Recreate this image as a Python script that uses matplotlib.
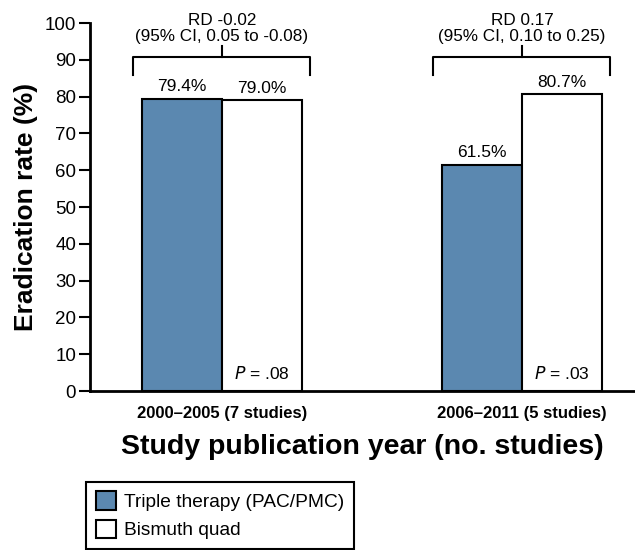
import numpy as np
import matplotlib.pyplot as plt
from matplotlib.patches import Patch

plt.rcParams['font.family'] = ['Liberation Sans', 'DejaVu Sans']

groups = ["2000\u20132005 (7 studies)", "2006\u20132011 (5 studies)"]
triple = [79.4, 61.5]
bismuth = [79.0, 80.7]
p_values = ["= .08", "= .03"]
rd_text = ["RD -0.02\n(95% CI, 0.05 to -0.08)", "RD 0.17\n(95% CI, 0.10 to 0.25)"]
series_names = ["Triple therapy (PAC/PMC)", "Bismuth quad"]
blue = "#5b88b0"

fig = plt.figure(figsize=(6.35, 5.5), dpi=100)
ax = fig.add_axes([90/635, 1-391/550, 1-90/635, (391-23)/550])

x = np.arange(len(groups))
w = 0.267
ax.bar(x - w/2, triple, w, color=blue, edgecolor="black", linewidth=1.5, clip_on=False)
ax.bar(x + w/2, bismuth, w, color="white", edgecolor="black", linewidth=1.5, clip_on=False)

for i in range(len(groups)):
    ax.text(x[i] - w/2, triple[i] + 1.2, f"{triple[i]:.1f}%", ha="center", va="bottom", fontsize=12.5)
    ax.text(x[i] + w/2, bismuth[i] + 1.2, f"{bismuth[i]:.1f}%", ha="center", va="bottom", fontsize=12.5)
    ax.text(x[i] + w/2, 4.8, "$\\it{P}$ " + p_values[i], ha="center", va="center", fontsize=12.5)
    # bracket over the pair
    half = 0.295
    ax.plot([x[i]-half, x[i]-half, x[i]+half, x[i]+half], [85.8, 90.7, 90.7, 85.8],
            color="black", lw=1.5, clip_on=False)
    ax.plot([x[i], x[i]], [90.7, 93.7], color="black", lw=1.5, clip_on=False)
    ax.text(x[i], 94.3, rd_text[i], ha="center", va="bottom", fontsize=12.3, linespacing=1.05)

ax.set_xlim(-0.44, 1.377)
ax.set_ylim(0, 100)
ax.set_yticks(np.arange(0, 101, 10))
ax.set_xticks(x)
ax.set_xticklabels(groups, fontsize=12, fontweight="bold")
ax.tick_params(axis="y", labelsize=13.5, width=1.5, length=8, pad=2)
ax.tick_params(axis="x", length=0, pad=11)
for s in ["top", "right"]:
    ax.spines[s].set_visible(False)
for s in ["left", "bottom"]:
    ax.spines[s].set_linewidth(2)
ax.set_ylabel("Eradication rate (%)", fontsize=19, fontweight="bold", labelpad=5)
ax.set_xlabel("Study publication year (no. studies)", fontsize=20.5, fontweight="bold", labelpad=9)

handles = [Patch(facecolor=blue, edgecolor="black", lw=1.5),
           Patch(facecolor="white", edgecolor="black", lw=1.5)]
leg = fig.legend(handles, series_names, loc="lower left", bbox_to_anchor=(86/635, 1/550),
                 fontsize=13.8, fancybox=False, edgecolor="black", framealpha=1,
                 handlelength=1.05, handleheight=1.1, handletextpad=0.45, labelspacing=0.45,
                 borderpad=0.5, borderaxespad=0)
leg.get_frame().set_linewidth(1.5)

fig.savefig("out.png", dpi=100)
